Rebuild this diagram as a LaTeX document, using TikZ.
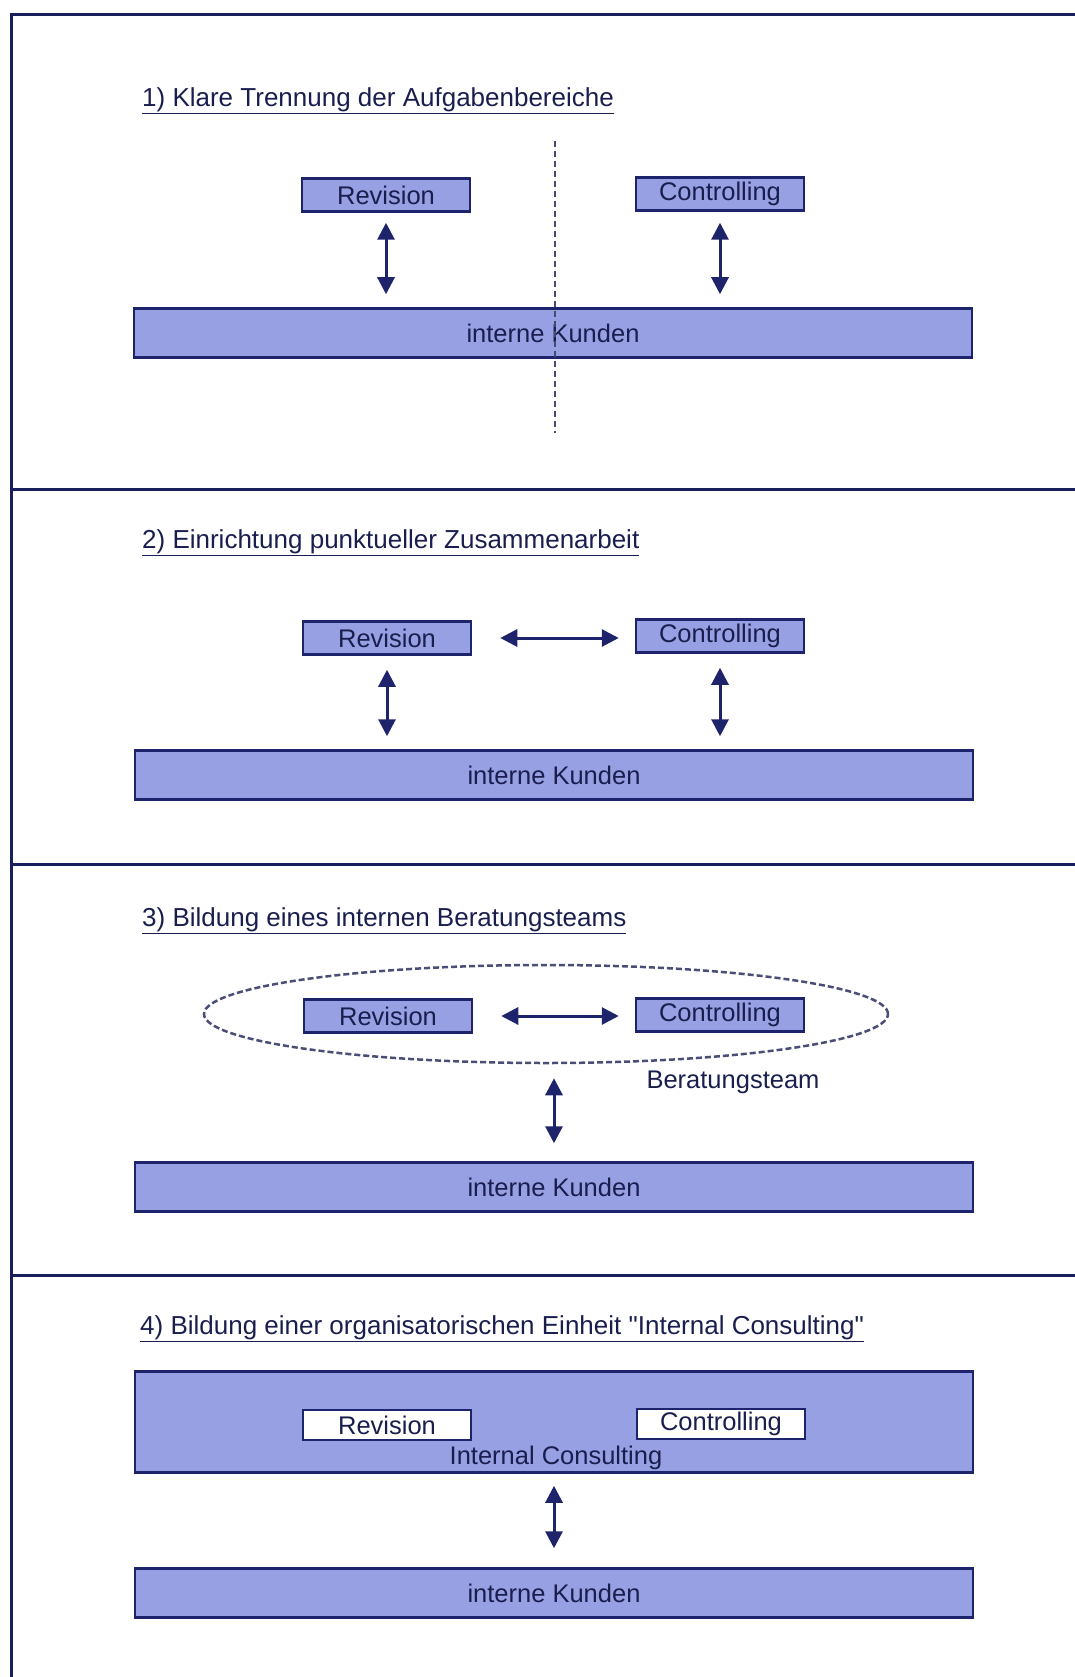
\documentclass[tikz,border=0pt]{standalone}
\usepackage{fontspec}
\setmainfont{Liberation Sans}
\usetikzlibrary{arrows.meta,shapes.geometric}

\definecolor{navy}{RGB}{30,36,108}
\definecolor{boxblue}{RGB}{150,160,226}
\definecolor{txt}{RGB}{26,30,78}

\tikzstyle{tS}=[anchor=west,inner sep=0pt,text=txt,font=\fontsize{26}{30}\selectfont]
\tikzstyle{bS}=[rectangle,draw=navy,line width=2.5pt,fill=boxblue,minimum width=168pt,minimum height=33pt,inner sep=0pt,text=txt,font=\fontsize{25.5}{30}\selectfont]
\tikzstyle{wS}=[bS,fill=white,minimum height=30pt]
\tikzstyle{kS}=[bS,minimum width=838pt,minimum height=49pt]
\tikzstyle{lS}=[inner sep=0pt,text=txt,font=\fontsize{25.5}{30}\selectfont]
\tikzstyle{aS}=[{Triangle[width=17pt,length=17pt]}-{Triangle[width=17pt,length=17pt]},line width=3pt,draw=navy]
\tikzstyle{fS}=[line width=3pt,draw=navy!85!black]
\tikzstyle{dS}=[dash pattern=on 6pt off 4pt,line width=1.8pt,draw=navy!60!gray]
\tikzstyle{eS}=[ellipse,dash pattern=on 6pt off 3pt,line width=2.5pt,draw=navy!55!gray,minimum width=684pt,minimum height=98pt]

\begin{document}
\begin{tikzpicture}[x=1pt,y=-1pt]%[x=1 cm, y=1 cm]
                \useasboundingbox (0,0) rectangle (1075,1677);
                % frame and dividers
                \draw[fS] (1075,15) -- (11,15) -- (11,1677);
                \foreach \y in {489,864,1275}
                    \draw[fS] (11,\y) -- (1075,\y);

                % 1)
                \draw (142,101) node[tS] (t1) {\underline{1) Klare Trennung der Aufgabenbereiche}};
                \draw (386,195) node[bS] (rev1) {Revision};
                \draw (720,194) node[bS] (con1) {Controlling};
                \draw (553,333) node[kS] (kun1) {interne Kunden};
                \coordinate (sepTop) at (555,141);
                \coordinate (sepBot) at (555,433);
                \draw[dS] (sepTop) -- (sepBot);
                \path
                    (rev1.south) edge[aS,shorten <=10pt,shorten >=13pt] (rev1.south |- kun1.north)
                    (con1.south) edge[aS,shorten <=11pt,shorten >=13pt] (con1.south |- kun1.north)
                ;

                % 2)
                \draw (142,543) node[tS] (t2) {\underline{2) Einrichtung punktueller Zusammenarbeit}};
                \draw (387,638) node[bS] (rev2) {Revision};
                \draw (720,636) node[bS] (con2) {Controlling};
                \draw (554,775) node[kS] (kun2) {interne Kunden};
                \path
                    (rev2.east) edge[aS,shorten <=28pt,shorten >=16pt] (rev2.east -| con2.west)
                    (rev2.south) edge[aS,shorten <=14pt,shorten >=13pt] (rev2.south |- kun2.north)
                    (con2.south) edge[aS,shorten <=14pt,shorten >=13pt] (con2.south |- kun2.north)
                ;

                % 3)
                \draw (142,921) node[tS] (t3) {\underline{3) Bildung eines internen Beratungsteams}};
                \draw (546,1014) node[eS] (team) {};
                \draw (388,1016) node[bS] (rev3) {Revision};
                \draw (720,1015) node[bS] (con3) {Controlling};
                \draw (733,1082) node[lS] (lab3) {Beratungsteam};
                \draw (554,1187) node[kS] (kun3) {interne Kunden};
                \path
                    (rev3.east) edge[aS,shorten <=28pt,shorten >=16pt] (rev3.east -| con3.west)
                    (kun3.north |- team.south) edge[aS,shorten <=14pt,shorten >=18pt] (kun3.north)
                ;

                % 4)
                \draw (140,1329) node[tS] (t4) {\underline{4) Bildung einer organisatorischen Einheit \textquotedbl Internal Consulting\textquotedbl}};
                \draw (554,1422) node[kS,minimum height=101pt] (ic) {};
                \draw (387,1425) node[wS] (rev4) {Revision};
                \draw (721,1424) node[wS] (con4) {Controlling};
                \draw (556,1458) node[lS] (icText) {Internal Consulting};
                \draw (554,1593) node[kS] (kun4) {interne Kunden};
                \path
                    (ic.south) edge[aS,shorten <=12pt,shorten >=19pt] (kun4.north)
                ;
        \end{tikzpicture}
\end{document}
